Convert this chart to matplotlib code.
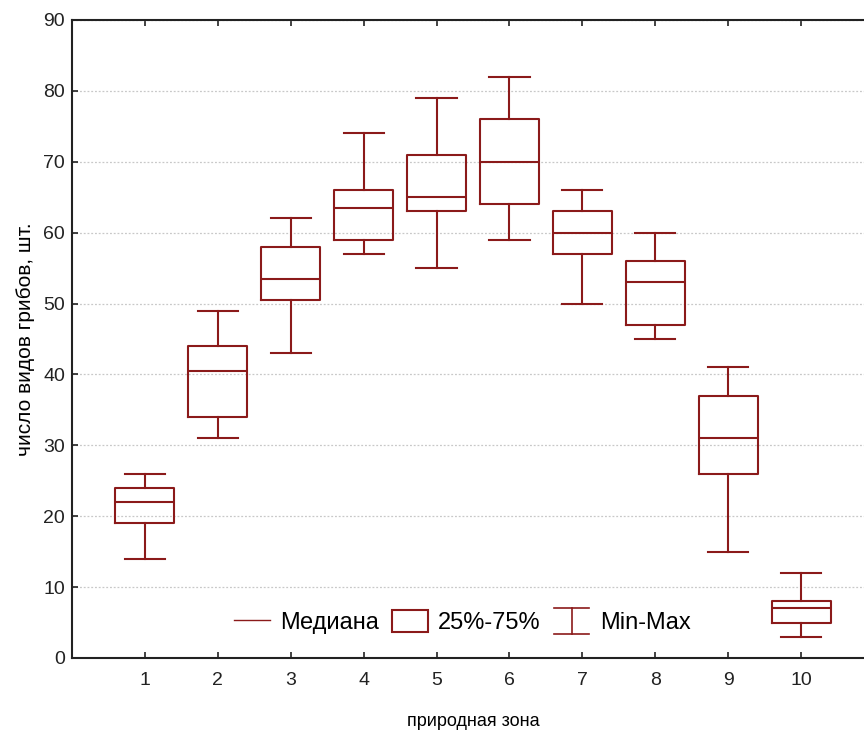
import matplotlib

matplotlib.use("Agg")
import matplotlib.pyplot as plt  # noqa: E402
from matplotlib.legend_handler import HandlerBase  # noqa: E402
from matplotlib.lines import Line2D  # noqa: E402
from matplotlib.patches import Rectangle  # noqa: E402

# Статистика по природным зонам: мин, 25%, медиана, 75%, макс
zones = [1, 2, 3, 4, 5, 6, 7, 8, 9, 10]
mins = [14, 31, 43, 57, 55, 59, 50, 45, 15, 3]
q1s = [19, 34, 50.5, 59, 63, 64, 57, 47, 26, 5]
medians = [22, 40.5, 53.5, 63.5, 65, 70, 60, 53, 31, 7]
q3s = [24, 44, 58, 66, 71, 76, 63, 56, 37, 8]
maxs = [26, 49, 62, 74, 79, 82, 66, 60, 41, 12]

COLOR = "#8b1a1a"
LW = 1.5

plt.rcParams["font.family"] = ["Liberation Sans", "DejaVu Sans"]


class WhiskerHandler(HandlerBase):
    """Значок легенды в виде отрезка с засечками (Min-Max)."""

    def create_artists(self, legend, orig_handle, xdescent, ydescent,
                       width, height, fontsize, trans):
        x0, x1 = -xdescent, -xdescent + width
        xm = (x0 + x1) / 2
        y0, y1 = -ydescent - 0.1 * height, -ydescent + 1.1 * height
        kw = dict(color=COLOR, lw=1.2, transform=trans)
        return [Line2D([x0, x1], [y0, y0], **kw),
                Line2D([x0, x1], [y1, y1], **kw),
                Line2D([xm, xm], [y0, y1], **kw)]


stats = [
    dict(whislo=lo, q1=a, med=m, q3=b, whishi=hi, fliers=[])
    for lo, a, m, b, hi in zip(mins, q1s, medians, q3s, maxs)
]

fig = plt.figure(figsize=(8.64, 7.33), dpi=100)
# правая граница осей выходит за край рисунка
ax = fig.add_axes([72 / 864, 75 / 733, 802 / 864, 638 / 733])

line_kw = dict(color=COLOR, linewidth=LW)
ax.bxp(
    stats, positions=zones, widths=0.81, capwidths=0.55, showfliers=False,
    boxprops=line_kw, medianprops=line_kw, whiskerprops=line_kw, capprops=line_kw,
)

ax.set_xlim(0, 11)
ax.set_ylim(0, 90)
ax.set_yticks(range(0, 91, 10))
ax.set_xticks(zones)
ax.set_xticklabels([str(z) for z in zones])
ax.tick_params(axis="both", direction="in", length=4, width=1.2, labelsize=14,
               colors="#222222")
ax.tick_params(axis="x", top=True, pad=10)
ax.tick_params(axis="y", pad=5)
ax.grid(axis="y", color="#c8c8c8", linestyle=(0, (1.5, 1.5)), linewidth=0.9)
ax.set_axisbelow(True)
for side in ("left", "bottom", "top"):
    ax.spines[side].set_linewidth(1.5)
    ax.spines[side].set_color("#222222")
ax.spines["right"].set_visible(False)

ax.set_xlabel("природная зона", fontsize=13, labelpad=17)
ax.set_ylabel("число видов грибов, шт.", fontsize=15, labelpad=6)

median_handle = Line2D([], [], color=COLOR, lw=1.0)
box_handle = Rectangle((0, 0), 1, 1, facecolor="white", edgecolor=COLOR, lw=1.5)
whisker_handle = object()
ax.legend(
    [median_handle, box_handle, whisker_handle],
    ["Медиана", "25%-75%", "Min-Max"],
    handler_map={whisker_handle: WhiskerHandler()},
    loc="center", bbox_to_anchor=(0.487, 0.056), ncol=3, frameon=False,
    fontsize=17, handlelength=1.5, handleheight=1.0, handletextpad=0.45,
    columnspacing=0.55,
)

fig.savefig("out.png", dpi=100)
plt.close(fig)
